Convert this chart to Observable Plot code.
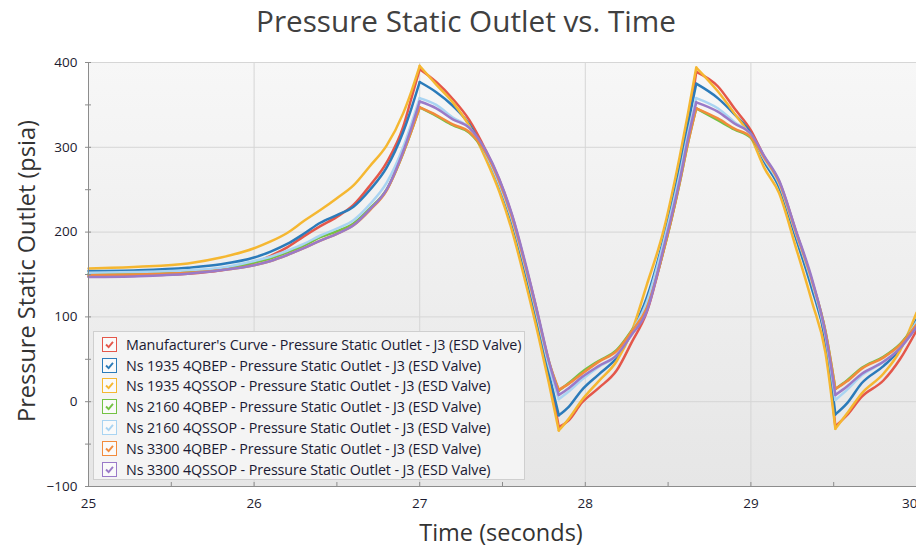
<!DOCTYPE html>
<html>
<head>
<meta charset="utf-8">
<script src="https://cdn.jsdelivr.net/npm/d3@7"></script>
<script src="https://cdn.jsdelivr.net/npm/@observablehq/plot@0.6"></script>
<style>
  body { margin: 0; background: #fff; }
  #wrap { position: relative; width: 916px; height: 547px; overflow: hidden; font-family: "Open Sans", sans-serif; }
  #legend { position: absolute; left: 93px; top: 331px; width: 432px; height: 149px; box-sizing: border-box;
            border: 1px solid #cfcfcf; background: #f4f4f4; padding-top: 2px; }
  .row { height: 20.8px; display: flex; align-items: center; font-size: 14.3px; color: #1a1a33; white-space: nowrap; letter-spacing: -0.1px; }
  .cb { width: 15px; height: 15px; box-sizing: border-box; border: 1.3px solid; background: #fafafa; margin-left: 8px; margin-right: 9px; display: inline-block; flex: none; }
  .cb svg { display: block; width: 100%; height: 100%; }
</style>
</head>
<body>
<div id="wrap"></div>
<script>
// ---- data ----
const T = [25, 25.3, 25.6, 25.8, 26.0, 26.1, 26.2, 26.3, 26.4, 26.5, 26.6, 26.7, 26.8, 26.9, 26.95, 27.0,
           27.1, 27.2, 27.3, 27.4, 27.48, 27.56, 27.64, 27.72, 27.78, 27.84, 27.9, 27.98, 28.08, 28.19, 28.28,
           28.37, 28.47, 28.57, 28.62, 28.67, 28.8, 28.9, 29.0, 29.08, 29.17, 29.27, 29.37, 29.45, 29.51, 29.58,
           29.67, 29.8, 29.9, 30.0];

const manufacturer = [148,149,151,155,164,172,182,195,207,218,232,255,282,324,358,392,
  377,357,332,296,262,218,160,96,34,-30,-22,-1,16,37,70,
  105,177,262,322,389,372,346,320,289,260,202,140,70,-29,-16,
  6,25,50,84];
const ns1935QBEP = [154,155,158,162,170,177,186,198,211,220,230,250,276,318,346,377,
  365,349,327,290,255,209,150,85,33,-16,-6,14,32,52,82,
  122,190,277,328,375,358,339,316,283,253,194,132,73,-15,-2,
  22,42,62,97];
const ns1935QSSOP = [157,159,163,170,181,189,199,213,226,240,255,278,302,340,366,396,
  374,353,325,286,248,200,140,75,22,-34,-20,2,24,48,83,
  137,200,289,340,394,366,340,312,276,246,183,117,58,-32,-14,
  10,33,60,105];
const ns2160QBEP = [151,152,154,157,164,169,176,184,194,201,210,228,250,293,319,347,
  337,326,317,292,259,215,158,95,47,13,22,35,48,61,84,
  112,176,258,305,346,332,321,311,287,258,200,141,83,15,25,
  40,53,68,92];
const ns2160QSSOP = [152,153,155,158,166,171,178,186,196,204,214,233,258,300,328,358,
  350,335,323,292,257,213,156,92,42,3,12,26,41,55,82,
  117,186,268,316,358,346,330,315,286,257,199,139,78,2,14,
  31,47,64,94];
const ns3300QBEP = [149,150,152,155,161,166,173,181,190,198,208,226,249,293,319,347,
  338,327,318,293,260,216,159,96,48,14,21,33,47,60,83,
  110,176,258,305,346,334,322,312,288,259,201,142,83,15,24,
  39,52,67,91];
const ns3300QSSOP = [147,148,151,155,161,166,173,181,190,198,208,227,250,295,323,354,
  346,333,323,296,263,219,162,98,48,8,16,29,42,55,79,
  106,179,261,310,353,342,328,316,290,261,203,144,81,8,18,
  33,47,63,88];

const seriesNames = [
  "Manufacturer's Curve - Pressure Static Outlet - J3 (ESD Valve)",
  "Ns 1935 4QBEP - Pressure Static Outlet - J3 (ESD Valve)",
  "Ns 1935 4QSSOP - Pressure Static Outlet - J3 (ESD Valve)",
  "Ns 2160 4QBEP - Pressure Static Outlet - J3 (ESD Valve)",
  "Ns 2160 4QSSOP - Pressure Static Outlet - J3 (ESD Valve)",
  "Ns 3300 4QBEP - Pressure Static Outlet - J3 (ESD Valve)",
  "Ns 3300 4QSSOP - Pressure Static Outlet - J3 (ESD Valve)"
];
const seriesValues = [manufacturer, ns1935QBEP, ns1935QSSOP, ns2160QBEP, ns2160QSSOP, ns3300QBEP, ns3300QSSOP];
const seriesColors = ["#e4574a", "#2b7bba", "#f5b731", "#74c243", "#a9d4f2", "#f28b3c", "#9a7ac8"];

const xTicks = [25, 26, 27, 28, 29, 30];
const xMinorTicks = [25.5, 26.5, 27.5, 28.5, 29.5];
const yTicks = [-100, 0, 100, 200, 300, 400];
const yMinorTicks = [-50, 50, 150, 250, 350];

const titleText = "Pressure Static Outlet vs. Time";
const xLabel = "Time (seconds)";
const yLabel = "Pressure Static Outlet (psia)";

// ---- build: split each series at its local extrema so the peaks stay sharp ----
const rows = [];
seriesNames.forEach((name, i) => {
  const vals = seriesValues[i];
  let seg = 0;
  T.forEach((t, j) => {
    rows.push({t, v: vals[j], name, key: name + "|" + seg});
    if (j > 0 && j < T.length - 1) {
      const a = vals[j] - vals[j - 1], b = vals[j + 1] - vals[j];
      if (a * b < 0) { seg++; rows.push({t, v: vals[j], name, key: name + "|" + seg}); }
    }
  });
});

const lastX = xTicks[xTicks.length - 1];

const chart = Plot.plot({
  width: 916, height: 547,
  marginTop: 62, marginLeft: 88, marginRight: 0, marginBottom: 61,
  style: {fontFamily: "Open Sans, sans-serif", fontSize: "13.5px", color: "#1c1c30", background: "transparent", overflow: "visible"},
  x: {domain: [25, 30]},
  y: {domain: [-100, 400]},
  color: {domain: seriesNames, range: seriesColors},
  marks: [
    Plot.frame({fill: "url(#plotbg)", stroke: null}),
    Plot.gridX(xTicks, {stroke: "#d6d6d6", strokeOpacity: 1}),
    Plot.gridY(yTicks, {stroke: "#d6d6d6", strokeOpacity: 1}),
    Plot.line(rows, {x: "t", y: "v", z: "key", stroke: "name", strokeWidth: 2.5, curve: "monotone-x", strokeLinejoin: "round"}),
    Plot.ruleX([25], {stroke: "#8c8c8c"}),
    Plot.ruleY([-100], {stroke: "#8c8c8c"}),
    Plot.axisY(yTicks.concat(yMinorTicks), {tickSize: 3, text: null, stroke: "#8c8c8c", label: null}),
    Plot.axisY(yTicks.concat(yMinorTicks), {tickSize: 3, text: null, stroke: "#8c8c8c", dx: 3, label: null}),
    Plot.axisY(yTicks, {tickSize: 0, tickPadding: 11, label: null, fill: "#1c1c30"}),
    Plot.axisX(xTicks.concat(xMinorTicks), {tickSize: 4, text: null, stroke: "#8c8c8c", dy: -4, label: null}),
    Plot.axisX(xTicks.filter(d => d !== lastX), {tickSize: 0, tickPadding: 12, label: null, fill: "#1c1c30", tickFormat: d3.format("d")}),
    Plot.axisX([lastX], {tickSize: 0, tickPadding: 12, label: null, fill: "#1c1c30", tickFormat: d3.format("d"), textAnchor: "end", dx: 1})
  ]
});

chart.insertAdjacentHTML("afterbegin",
  `<defs><linearGradient id="plotbg" x1="0" y1="0" x2="0" y2="1">
     <stop offset="0" stop-color="#f7f7f7"/><stop offset="1" stop-color="#e6e6e6"/>
   </linearGradient></defs>`);

const svg = d3.select(chart);
svg.append("text").attr("x", 466).attr("y", 32).attr("text-anchor", "middle")
  .style("font-size", "29.7px").style("fill", "#404040").text(titleText);
svg.append("text").attr("x", 501).attr("y", 541).attr("text-anchor", "middle")
  .style("font-size", "23.5px").style("fill", "#333").text(xLabel);
svg.append("text").attr("transform", "translate(35,271) rotate(-90)").attr("text-anchor", "middle")
  .style("font-size", "23.5px").style("fill", "#333").text(yLabel);

const wrap = document.getElementById("wrap");
wrap.appendChild(chart);

const legend = document.createElement("div");
legend.id = "legend";
seriesNames.forEach((name, i) => {
  const c = seriesColors[i];
  const row = document.createElement("div");
  row.className = "row";
  row.innerHTML = `<span class="cb" style="border-color:${c}"><svg viewBox="0 0 15 15"><path d="M3.5 7.5 L6.5 10.5 L11.5 4.5" fill="none" stroke="${c}" stroke-width="2.2"/></svg></span><span></span>`;
  row.lastChild.textContent = name;
  legend.appendChild(row);
});
wrap.appendChild(legend);
</script>
</body>
</html>
